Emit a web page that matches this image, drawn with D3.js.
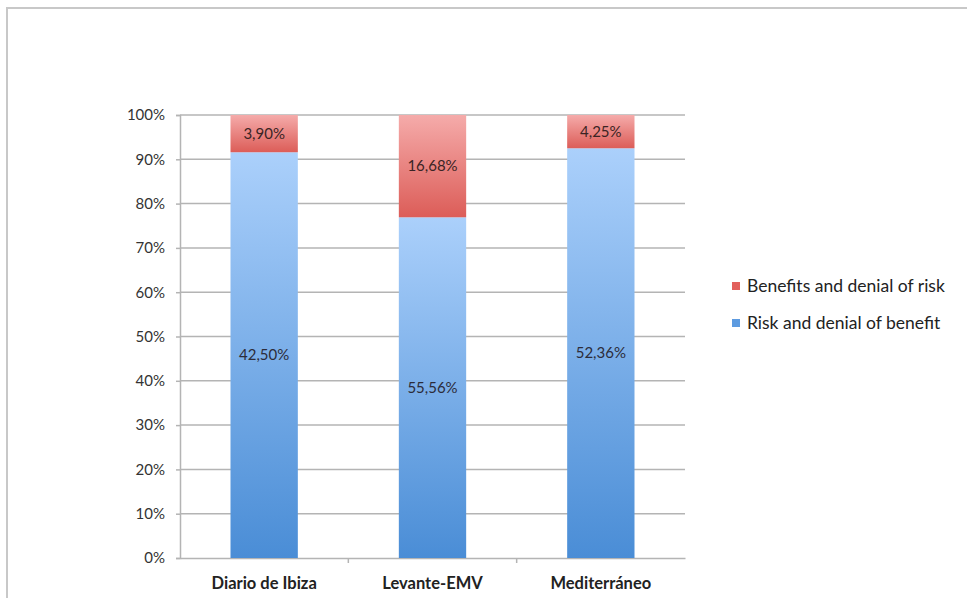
<!DOCTYPE html>
<html>
<head>
<meta charset="utf-8">
<script src="https://cdn.jsdelivr.net/npm/d3@7"></script>
<style>
  body { margin: 0; background: #fff; }
  svg { display: block; font-family: Lato, "Open Sans", sans-serif; }
</style>
</head>
<body>
<svg id="chart" width="967" height="598"></svg>
<script>
// data
var categories = ["Diario de Ibiza", "Levante-EMV", "Mediterráneo"];
var riskValues = [42.50, 55.56, 52.36];      // Risk and denial of benefit
var benefitValues = [3.90, 16.68, 4.25];     // Benefits and denial of risk
var seriesNames = ["Benefits and denial of risk", "Risk and denial of benefit"];
var yTicks = [0, 0.1, 0.2, 0.3, 0.4, 0.5, 0.6, 0.7, 0.8, 0.9, 1];

var svg = d3.select("#chart");

// outer frame (only top and left visible)
svg.append("path")
    .attr("d", "M7,600 L7,8 L970,8")
    .attr("fill", "none").attr("stroke", "#c8c8c8").attr("stroke-width", 2);

var margin = {left: 180, right: 282, top: 115, bottom: 40};
var width = 967 - margin.left - margin.right;   // 505
var height = 558 - margin.top;                  // 443

var g = svg.append("g").attr("transform", "translate(" + margin.left + "," + margin.top + ")");

var x = d3.scaleBand().domain(categories).range([0, width]).padding(0);
var y = d3.scaleLinear().domain([0, 1]).range([height, 0]);

// gradients
var defs = svg.append("defs");
function grad(id, top, bottom) {
    var lg = defs.append("linearGradient").attr("id", id)
        .attr("x1", 0).attr("y1", 0).attr("x2", 0).attr("y2", 1);
    lg.append("stop").attr("offset", "0%").attr("stop-color", top);
    lg.append("stop").attr("offset", "100%").attr("stop-color", bottom);
}
grad("gBlue", "#abd0fb", "#4a8dd6");
grad("gRed", "#f5abaa", "#dc5d58");

// gridlines
g.selectAll("line.grid").data(yTicks.slice(1)).enter().append("line")
    .attr("class", "grid")
    .attr("x1", 0).attr("x2", width)
    .attr("y1", function (d) { return y(d); }).attr("y2", function (d) { return y(d); })
    .attr("stroke", "#b4b4b4").attr("stroke-width", 1.5);

// y axis
var yAxis = d3.axisLeft(y).tickValues(yTicks).tickSize(4).tickPadding(11)
    .tickFormat(function (d) { return Math.round(d * 100) + "%"; });
var ya = g.append("g").call(yAxis);
ya.select(".domain").attr("stroke", "#b4b4b4").attr("stroke-width", 1.5);
ya.selectAll(".tick line").attr("stroke", "#b4b4b4").attr("stroke-width", 1.5);
ya.selectAll(".tick text").attr("font-size", 15).attr("fill", "#333")
    .attr("font-family", "Lato, 'Open Sans', sans-serif");

// x axis
var xa = g.append("g").attr("transform", "translate(0," + height + ")")
    .call(d3.axisBottom(x).tickSize(0).tickPadding(19));
xa.select(".domain").attr("stroke", "#b4b4b4").attr("stroke-width", 1.5);
xa.selectAll(".tick text").attr("font-size", 16.5).attr("font-weight", "bold").attr("fill", "#222")
    .attr("font-family", "Lato, 'Open Sans', sans-serif");
// boundary ticks between categories
g.selectAll("line.xtick").data(categories.slice(1)).enter().append("line")
    .attr("class", "xtick")
    .attr("x1", function (d) { return x(d); }).attr("x2", function (d) { return x(d); })
    .attr("y1", height).attr("y2", height + 5)
    .attr("stroke", "#b4b4b4").attr("stroke-width", 1.5);

// stacked 100% data
var rows = categories.map(function (c, i) {
    var tot = riskValues[i] + benefitValues[i];
    return {cat: c, risk: riskValues[i], benefit: benefitValues[i], rShare: riskValues[i] / tot};
});

var barW = x.bandwidth() * 0.4;
var bx = function (d) { return x(d.cat) + (x.bandwidth() - barW) / 2; };
var fmt = function (v) { return v.toFixed(2).replace(".", ",") + "%"; };

// blue (bottom)
g.selectAll("rect.risk").data(rows).enter().append("rect")
    .attr("x", bx).attr("width", barW)
    .attr("y", function (d) { return y(d.rShare); })
    .attr("height", function (d) { return y(0) - y(d.rShare); })
    .attr("fill", "url(#gBlue)");
// red (top)
g.selectAll("rect.benefit").data(rows).enter().append("rect")
    .attr("x", bx).attr("width", barW)
    .attr("y", y(1))
    .attr("height", function (d) { return y(d.rShare) - y(1); })
    .attr("fill", "url(#gRed)");

// labels
g.selectAll("text.rl").data(rows).enter().append("text")
    .attr("x", function (d) { return bx(d) + barW / 2; })
    .attr("y", function (d) { return y(d.rShare / 2); })
    .attr("dy", "0.35em").attr("text-anchor", "middle")
    .attr("font-size", 15).attr("fill", "#2c2c3a")
    .text(function (d) { return fmt(d.risk); });
g.selectAll("text.bl").data(rows).enter().append("text")
    .attr("x", function (d) { return bx(d) + barW / 2; })
    .attr("y", function (d) { return y((d.rShare + 1) / 2); })
    .attr("dy", "0.35em").attr("text-anchor", "middle")
    .attr("font-size", 15).attr("fill", "#3a2424")
    .text(function (d) { return fmt(d.benefit); });

// legend
var legend = svg.append("g").attr("transform", "translate(732,282)");
var legendColors = ["#e2605c", "#5d9be0"];
seriesNames.forEach(function (n, i) {
    var row = legend.append("g").attr("transform", "translate(0," + (i * 37) + ")");
    row.append("rect").attr("width", 8).attr("height", 8).attr("fill", legendColors[i]);
    row.append("text").attr("x", 15).attr("y", 4).attr("dy", "0.35em")
        .attr("font-size", 17.5).attr("fill", "#222").text(n);
});
</script>
</body>
</html>
